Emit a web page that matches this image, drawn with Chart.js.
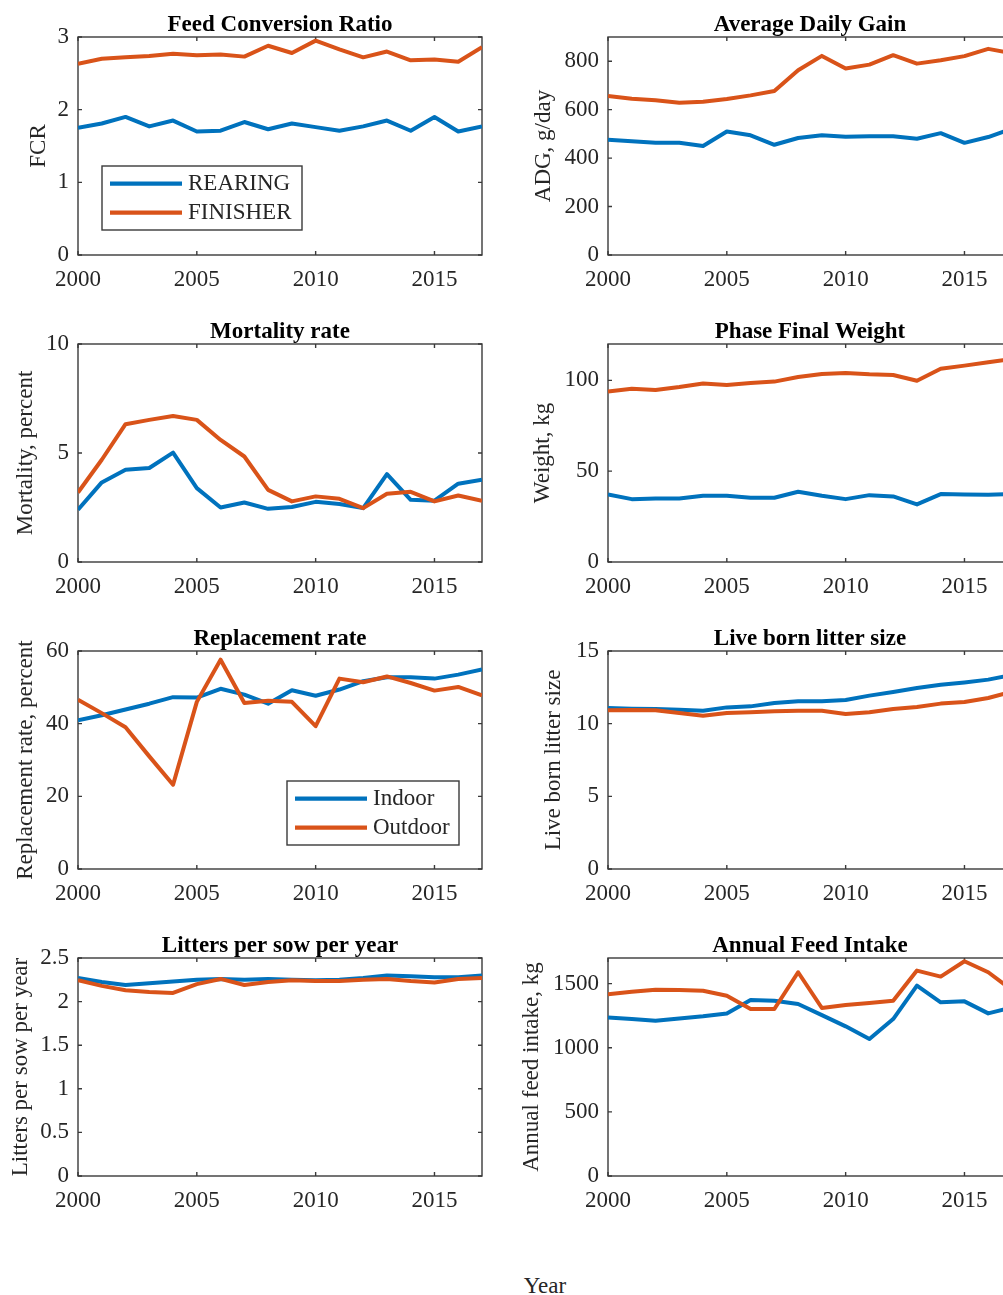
<!DOCTYPE html>
<html>
<head>
<meta charset="utf-8">
<title>Pig production indicators 2000-2017</title>
<script src="https://cdn.jsdelivr.net/npm/chart.js@4.4.1/dist/chart.umd.min.js"></script>
<style>
  html, body { margin: 0; padding: 0; background: #fff; overflow: hidden; }
  #page { position: relative; width: 1003px; height: 1295px; overflow: hidden; background: #fff; }
  #page canvas { position: absolute; }
  #year {
    position: absolute; left: 545px; top: 1274px; transform: translateX(-50%);
    font: 23px/23px 'Liberation Serif', 'Times New Roman', serif; color: #262626; white-space: nowrap;
  }
</style>
</head>
<body>
<div id="page">
  <div id="year">Year</div>
</div>
<script>
const years = [2000, 2001, 2002, 2003, 2004, 2005, 2006, 2007, 2008, 2009, 2010, 2011, 2012, 2013, 2014, 2015, 2016, 2017];
const yearTicks = [2000, 2005, 2010, 2015];

// growing pigs: rearing vs finisher
const fcrRearing = [1.75, 1.81, 1.90, 1.77, 1.85, 1.70, 1.71, 1.83, 1.73, 1.81, 1.76, 1.71, 1.77, 1.85, 1.71, 1.90, 1.70, 1.77];
const fcrFinisher = [2.63, 2.70, 2.72, 2.74, 2.77, 2.75, 2.76, 2.73, 2.88, 2.78, 2.95, 2.83, 2.72, 2.80, 2.68, 2.69, 2.66, 2.86];
const fcrTicks = [0, 1, 2, 3];

const adgRearing = [476, 470, 463, 463, 450, 510, 494, 455, 483, 494, 488, 490, 490, 480, 503, 463, 487, 522];
const adgFinisher = [656, 645, 639, 629, 633, 644, 659, 677, 763, 822, 770, 786, 825, 790, 804, 821, 851, 833];
const adgTicks = [0, 200, 400, 600, 800];

const mortRearing = [2.40, 3.65, 4.23, 4.31, 5.02, 3.39, 2.50, 2.73, 2.44, 2.52, 2.76, 2.66, 2.47, 4.03, 2.85, 2.81, 3.59, 3.77];
const mortFinisher = [3.19, 4.69, 6.32, 6.52, 6.70, 6.52, 5.60, 4.84, 3.31, 2.78, 3.01, 2.90, 2.47, 3.13, 3.22, 2.78, 3.05, 2.81];
const mortTicks = [0, 5, 10];

const weightRearing = [37.2, 34.6, 35.0, 35.0, 36.5, 36.5, 35.4, 35.4, 38.7, 36.5, 34.6, 36.8, 36.1, 31.7, 37.4, 37.2, 37.0, 37.5];
const weightFinisher = [93.9, 95.4, 94.7, 96.3, 98.2, 97.4, 98.5, 99.3, 101.8, 103.5, 104.0, 103.3, 102.9, 99.8, 106.4, 108.1, 109.9, 111.7];
const weightTicks = [0, 50, 100];

// sows: indoor vs outdoor
const replIndoor = [40.9, 42.3, 43.9, 45.5, 47.3, 47.2, 49.6, 48.0, 45.5, 49.2, 47.7, 49.4, 51.7, 52.8, 52.8, 52.4, 53.5, 54.9];
const replOutdoor = [46.6, 42.9, 39.0, 31.0, 23.2, 46.0, 57.6, 45.7, 46.3, 46.0, 39.3, 52.4, 51.4, 53.0, 51.2, 49.1, 50.1, 47.8];
const replTicks = [0, 20, 40, 60];

const litterIndoor = [11.08, 11.03, 11.01, 10.96, 10.89, 11.12, 11.19, 11.42, 11.54, 11.54, 11.63, 11.93, 12.18, 12.45, 12.68, 12.84, 13.03, 13.35];
const litterOutdoor = [10.92, 10.94, 10.92, 10.73, 10.55, 10.73, 10.78, 10.85, 10.89, 10.89, 10.67, 10.78, 11.01, 11.15, 11.38, 11.49, 11.77, 12.2];
const litterTicks = [0, 5, 10, 15];

const littersIndoor = [2.27, 2.225, 2.19, 2.21, 2.23, 2.25, 2.26, 2.25, 2.26, 2.25, 2.245, 2.25, 2.27, 2.30, 2.29, 2.28, 2.28, 2.30];
const littersOutdoor = [2.245, 2.18, 2.13, 2.11, 2.10, 2.20, 2.26, 2.19, 2.225, 2.245, 2.235, 2.235, 2.25, 2.26, 2.235, 2.22, 2.26, 2.27];
const littersTicks = [0, 0.5, 1, 1.5, 2, 2.5];

const feedIndoor = [1237, 1224, 1211, 1229, 1245, 1268, 1372, 1367, 1341, 1255, 1167, 1068, 1224, 1484, 1354, 1362, 1268, 1315];
const feedOutdoor = [1417, 1437, 1453, 1450, 1445, 1406, 1302, 1302, 1589, 1310, 1333, 1349, 1367, 1602, 1555, 1675, 1589, 1450];
const feedTicks = [0, 500, 1000, 1500];

const growLabels = ['REARING', 'FINISHER'];
const sowLabels = ['Indoor', 'Outdoor'];

// page grid
const COLS = [{canvasLeft: 0, plotLeft: 78}, {canvasLeft: 500, plotLeft: 608}];
const ROWS = [37, 344, 651, 958];
const PLOT_W = 404, PLOT_H = 218;
const TOP_M = 40, BOTTOM_M = 40, RIGHT_M = 10;

const BLUE = '#0072BD', ORANGE = '#D95319', AXIS = '#3a3a3a', TEXT = '#262626';
const TICK_LEN = 4;

Chart.defaults.font.family = "'Liberation Serif', 'Times New Roman', serif";
Chart.defaults.font.size = 23;
Chart.defaults.color = TEXT;

// frame + inward ticks on all four sides
const axesBox = {
    id: 'axesBox',
    beforeDatasetsDraw(chart) {
        const {ctx, chartArea: a, scales: {x, y}} = chart;
        ctx.save();
        ctx.strokeStyle = AXIS;
        ctx.lineWidth = 1.4;
        ctx.beginPath();
        x.ticks.forEach(t => {
            const px = x.getPixelForValue(t.value);
            ctx.moveTo(px, a.bottom);
            ctx.lineTo(px, a.bottom - TICK_LEN);
            ctx.moveTo(px, a.top);
            ctx.lineTo(px, a.top + TICK_LEN);
        });
        y.ticks.forEach(t => {
            const py = y.getPixelForValue(t.value);
            ctx.moveTo(a.left, py);
            ctx.lineTo(a.left + TICK_LEN, py);
            ctx.moveTo(a.right, py);
            ctx.lineTo(a.right - TICK_LEN, py);
        });
        ctx.stroke();
        ctx.strokeRect(a.left, a.top, a.right - a.left, a.bottom - a.top);
        ctx.restore();
    }
};

// boxed legend sitting inside the plot area
const boxLegend = {
    id: 'boxLegend',
    afterDraw(chart, args, opts) {
        if (!opts.show) return;
        const {ctx, chartArea: a} = chart;
        const x0 = a.left + opts.left, y0 = a.top + opts.top;
        ctx.save();
        ctx.fillStyle = '#fff';
        ctx.fillRect(x0, y0, opts.width, opts.height);
        ctx.strokeStyle = AXIS;
        ctx.lineWidth = 1.4;
        ctx.strokeRect(x0, y0, opts.width, opts.height);
        ctx.font = "23px 'Liberation Serif', 'Times New Roman', serif";
        ctx.textBaseline = 'middle';
        ctx.textAlign = 'left';
        chart.data.datasets.forEach((ds, i) => {
            const yy = y0 + 17.6 + i * 29;
            ctx.strokeStyle = ds.borderColor;
            ctx.lineWidth = 4.2;
            ctx.beginPath();
            ctx.moveTo(x0 + 8, yy);
            ctx.lineTo(x0 + 80, yy);
            ctx.stroke();
            ctx.fillStyle = TEXT;
            ctx.fillText(ds.label, x0 + 86, yy);
        });
        ctx.restore();
    }
};

const panels = [
    {col: 0, row: 0, title: 'Feed Conversion Ratio', ylabel: 'FCR', yMax: 3, yTicks: fcrTicks, yTitlePad: 25,
        series: [fcrRearing, fcrFinisher], labels: growLabels,
        legend: {show: true, left: 24, top: 129, width: 200, height: 64}},
    {col: 1, row: 0, title: 'Average Daily Gain', ylabel: 'ADG, g/day', yMax: 900, yTicks: adgTicks, yTitlePad: 30,
        series: [adgRearing, adgFinisher], labels: growLabels},
    {col: 0, row: 1, title: 'Mortality rate', ylabel: 'Mortality, percent', yMax: 10, yTicks: mortTicks, yTitlePad: 12,
        series: [mortRearing, mortFinisher], labels: growLabels},
    {col: 1, row: 1, title: 'Phase Final Weight', ylabel: 'Weight, kg', yMax: 120, yTicks: weightTicks, yTitlePad: 29,
        series: [weightRearing, weightFinisher], labels: growLabels},
    {col: 0, row: 2, title: 'Replacement rate', ylabel: 'Replacement rate, percent', yMax: 60, yTicks: replTicks, yTitlePad: 12,
        series: [replIndoor, replOutdoor], labels: sowLabels,
        legend: {show: true, left: 209, top: 130, width: 172, height: 64}},
    {col: 1, row: 2, title: 'Live born litter size', ylabel: 'Live born litter size', yMax: 15, yTicks: litterTicks, yTitlePad: 40,
        series: [litterIndoor, litterOutdoor], labels: sowLabels},
    {col: 0, row: 3, title: 'Litters per sow per year', ylabel: 'Litters per sow per year', yMax: 2.5, yTicks: littersTicks, yTitlePad: 7,
        series: [littersIndoor, littersOutdoor], labels: sowLabels},
    {col: 1, row: 3, title: 'Annual Feed Intake', ylabel: 'Annual feed intake, kg', yMax: 1700, yTicks: feedTicks, yTitlePad: 18,
        series: [feedIndoor, feedOutdoor], labels: sowLabels}
];

function lineSet(label, data, color, order) {
    return {
        label: label,
        data: data,
        borderColor: color,
        backgroundColor: color,
        borderWidth: 4,
        borderJoinStyle: 'round',
        pointRadius: 0,
        tension: 0,
        fill: false,
        order: order
    };
}

// swap the generated ticks for a fixed list
const fixedTicks = values => scale => {
    scale.ticks = values.map(v => ({value: v}));
};

function drawPanel(p) {
    const col = COLS[p.col];
    const yWidth = col.plotLeft - col.canvasLeft;
    const canvas = document.createElement('canvas');
    canvas.width = yWidth + PLOT_W + RIGHT_M;
    canvas.height = TOP_M + PLOT_H + BOTTOM_M;
    canvas.style.left = col.canvasLeft + 'px';
    canvas.style.top = (ROWS[p.row] - TOP_M) + 'px';
    document.getElementById('page').appendChild(canvas);

    const asText = v => String(v);

    new Chart(canvas, {
        type: 'line',
        data: {
            labels: years,
            datasets: [
                lineSet(p.labels[0], p.series[0], BLUE, 1),
                lineSet(p.labels[1], p.series[1], ORANGE, 0)
            ]
        },
        options: {
            responsive: false,
            animation: false,
            devicePixelRatio: 1,
            events: [],
            layout: {padding: {left: 0, right: RIGHT_M, top: 0, bottom: 0}},
            scales: {
                x: {
                    type: 'linear',
                    min: 2000,
                    max: 2017,
                    grid: {display: false, drawTicks: false},
                    border: {display: false},
                    ticks: {padding: 11, maxRotation: 0, autoSkip: false, callback: asText},
                    afterBuildTicks: fixedTicks(yearTicks),
                    afterFit: s => { s.height = BOTTOM_M; }
                },
                y: {
                    type: 'linear',
                    min: 0,
                    max: p.yMax,
                    grid: {display: false, drawTicks: false},
                    border: {display: false},
                    ticks: {padding: 9, autoSkip: false, callback: asText},
                    afterBuildTicks: fixedTicks(p.yTicks),
                    title: {
                        display: true,
                        text: p.ylabel,
                        color: TEXT,
                        font: {size: 23, lineHeight: 1.2},
                        padding: {top: p.yTitlePad, bottom: 0}
                    },
                    afterFit: s => { s.width = yWidth; }
                }
            },
            plugins: {
                legend: {display: false},
                tooltip: {enabled: false},
                title: {
                    display: true,
                    text: p.title,
                    fullSize: false,
                    color: '#000',
                    font: {size: 23, weight: 'bold', lineHeight: 1},
                    padding: {top: 17, bottom: 0}
                },
                boxLegend: p.legend || {show: false}
            }
        },
        plugins: [axesBox, boxLegend]
    });
}

panels.forEach(drawPanel);
</script>
</body>
</html>
